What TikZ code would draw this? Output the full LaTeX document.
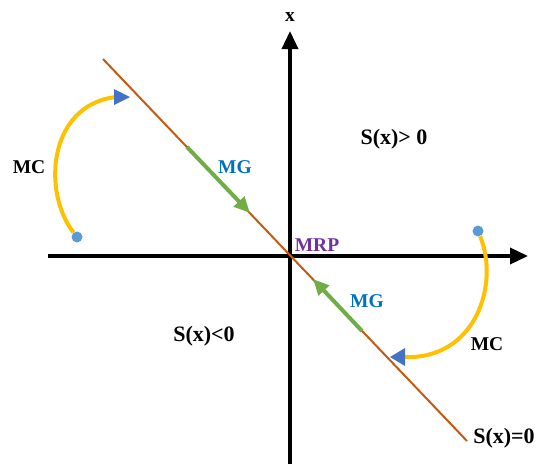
\documentclass[tikz,border=0pt]{standalone}
\usepackage{fontspec}
\setmainfont{Liberation Serif}
\usetikzlibrary{arrows.meta}
\definecolor{surf}{HTML}{C55A11}
\definecolor{mg}{HTML}{70AD47}
\definecolor{mgtext}{HTML}{0070C0}
\definecolor{mrp}{HTML}{7030A0}
\definecolor{mc}{HTML}{FFC000}
\definecolor{tri}{HTML}{4472C4}
\definecolor{dot}{HTML}{5B9BD5}
\tikzset{
  axis/.style={line width=3.5pt,-{Triangle[length=18pt,width=16pt]}},
  surface/.style={draw=surf,line width=2pt},
  mgarrow/.style={draw=mg,line width=4pt,-{Triangle[length=16pt,width=14pt]}},
  mcarc/.style={draw=mc,line width=4pt},
  lbl/.style={font=\bfseries\fontsize{19.5}{19.5}\selectfont,inner sep=0pt},
  slbl/.style={font=\bfseries\fontsize{22}{22}\selectfont,inner sep=0pt},
  startdot/.style={circle,fill=dot,minimum size=11pt,inner sep=0pt},
}
\begin{document}
\begin{tikzpicture}[x=1pt,y=-1pt]
\useasboundingbox (0,0) rectangle (537,464);
% axes
\coordinate (hl) at (48,256);
\coordinate (hr) at (528,256);
\coordinate (vb) at (290,464);
\coordinate (vt) at (290,31);
\draw[axis] (hl) -- (hr);
\draw[axis] (vb) -- (vt);
\node[lbl] (xl) at (290,17) {x};
% sliding surface
\coordinate (s1) at (103,59);
\coordinate (s2) at (467,441);
\draw[surface] (s1) -- (s2);
% MG arrows
\coordinate (g1a) at (187,147);
\coordinate (g1b) at (250,213);
\coordinate (g2a) at (362,331);
\coordinate (g2b) at (313,279);
\draw[mgarrow] (g1a) -- (g1b);
\draw[mgarrow] (g2a) -- (g2b);
% MC arcs
\node[startdot] (d1) at (77,237) {};
\node[startdot] (d2) at (478,231) {};
\coordinate (e1) at (116,97);
\coordinate (e2) at (404,357);
\draw[mcarc] (d1) .. controls (42,192) and (48,105) .. (e1);
\draw[mcarc] (d2) .. controls (500,285) and (475,360) .. (e2);
\fill[tri] (130,97) -- (114,89) -- (114,105) -- cycle;
\fill[tri] (390,357) -- (405,348) -- (405,366) -- cycle;
% labels
\node[lbl,text=mgtext] (mg1) at (235,167) {MG};
\node[lbl,text=mgtext] (mg2) at (367,301) {MG};
\node[lbl,text=mrp] (mrpl) at (317,245) {MRP};
\node[lbl] (mc1) at (29,167) {MC};
\node[lbl] (mc2) at (487,344) {MC};
\node[slbl] (sp) at (394,139) {S(x)> 0};
\node[slbl] (sn) at (204,336) {S(x)<0};
\node[slbl] (sz) at (504,438) {S(x)=0};
\end{tikzpicture}
\end{document}
